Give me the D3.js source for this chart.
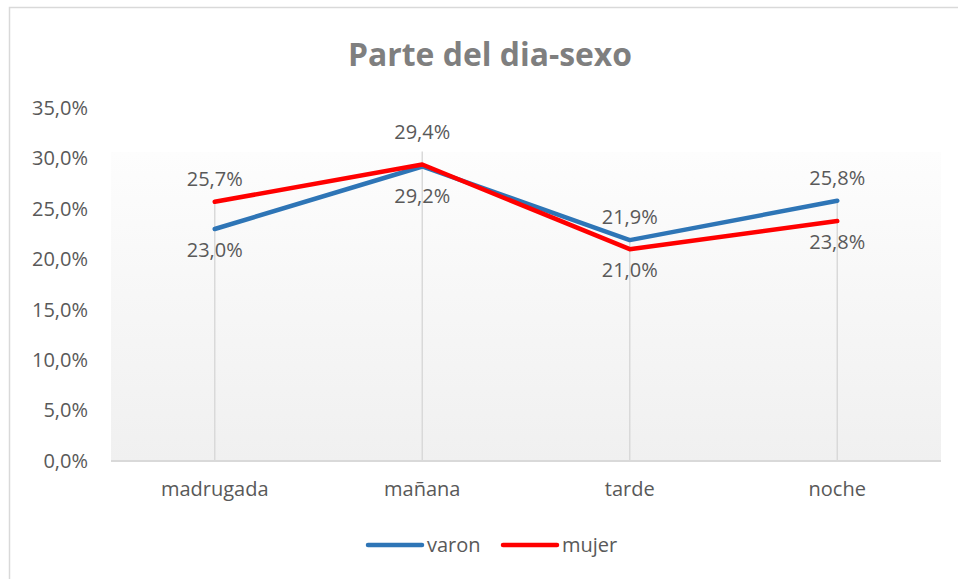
<!DOCTYPE html>
<html>
<head>
    <meta charset="utf-8">
    <style>
        body { margin: 0; background: #fff; }
        svg { display: block; }
        svg text { font-family: 'Open Sans', sans-serif; }
        .y .domain, .y .tick line { display: none; }
        .x .domain, .x .tick line { display: none; }
        .y .tick text, .x .tick text { font-size: 20px; fill: #595959; }
    </style>
</head>
<body>
    <svg width="958" height="579"></svg>

<script src="https://d3js.org/d3.v7.min.js"></script>
<script>
    // data
    let categories = ["madrugada", "mañana", "tarde", "noche"];
    let varon = [23.0, 29.2, 21.9, 25.8];
    let mujer = [25.7, 29.4, 21.0, 23.8];
    let yTicks = [0, 5, 10, 15, 20, 25, 30, 35];

    let series = [
        { name: "varon", values: varon, color: "#2E75B6" },
        { name: "mujer", values: mujer, color: "#FF0000" }
    ];

    let width = 958;
    let height = 579;
    let margin = { top: 108, right: 18, bottom: 118, left: 111 };

    let svg = d3.select("svg");
    let fmt = v => v.toFixed(1).replace(".", ",") + "%";

    // outer chart border
    svg.append("rect")
        .attr("x", 9.5).attr("y", 7.5)
        .attr("width", width + 20).attr("height", height + 20)
        .style("fill", "#fff")
        .style("stroke", "#d9d9d9")
        .style("stroke-width", 1.5);

    let x = d3.scaleBand()
        .domain(categories)
        .range([margin.left, width - margin.right + 1]);

    let y = d3.scaleLinear()
        .domain([0, 35])
        .range([height - margin.bottom, margin.top]);

    // plot area gradient
    let grad = svg.append("defs").append("linearGradient")
        .attr("id", "bg").attr("x1", 0).attr("y1", 0).attr("x2", 0).attr("y2", 1);
    grad.append("stop").attr("offset", "0%").attr("stop-color", "#fdfdfd");
    grad.append("stop").attr("offset", "100%").attr("stop-color", "#f0f0f0");

    svg.append("rect")
        .attr("x", x.range()[0])
        .attr("y", 152)
        .attr("width", x.range()[1] - x.range()[0])
        .attr("height", y(0) - 152)
        .style("fill", "url(#bg)");

    // title
    svg.append("text")
        .attr("x", 490)
        .attr("y", 66)
        .attr("text-anchor", "middle")
        .attr("textLength", 284)
        .attr("lengthAdjust", "spacingAndGlyphs")
        .style("font-size", "32px")
        .style("font-weight", "bold")
        .style("fill", "#7f7f7f")
        .text("Parte del dia-sexo");

    // axes
    svg.append("g")
        .attr("class", "y axis")
        .attr("transform", `translate(${margin.left - 23},0)`)
        .call(d3.axisLeft(y).tickValues(yTicks).tickSize(0).tickPadding(0)
            .tickFormat(d => d.toFixed(1).replace(".", ",") + "%"));

    svg.append("g")
        .attr("class", "x axis")
        .attr("transform", `translate(0,${y(0) + 21})`)
        .call(d3.axisBottom(x).tickSize(0).tickPadding(0));

    // drop lines
    svg.append("g")
        .selectAll("line")
        .data(categories)
        .join("line")
        .attr("x1", d => x(d) + x.bandwidth() / 2)
        .attr("x2", d => x(d) + x.bandwidth() / 2)
        .attr("y1", (d, i) => y(Math.max(varon[i], mujer[i])) - (Math.abs(varon[i] - mujer[i]) < 0.5 ? 13 : 0))
        .attr("y2", y(0))
        .style("stroke", "#d9d9d9")
        .style("stroke-width", 1.5);

    // category axis line
    svg.append("line")
        .attr("x1", x.range()[0]).attr("x2", x.range()[1])
        .attr("y1", y(0)).attr("y2", y(0))
        .style("stroke", "#d9d9d9")
        .style("stroke-width", 2);

    let line = d3.line()
        .x((d, i) => x(categories[i]) + x.bandwidth() / 2)
        .y(d => y(d));

    svg.append("g")
        .selectAll("path")
        .data(series)
        .join("path")
        .attr("d", d => line(d.values))
        .style("fill", "none")
        .style("stroke", d => d.color)
        .style("stroke-width", 4.5)
        .style("stroke-linecap", "round")
        .style("stroke-linejoin", "round");

    // data labels: higher value above, lower below
    series.forEach(function (s, si) {
        let other = series[1 - si].values;
        svg.append("g")
            .selectAll("text")
            .data(s.values)
            .join("text")
            .attr("x", (d, i) => x(categories[i]) + x.bandwidth() / 2)
            .attr("y", (d, i) => {
                let close = Math.abs(d - other[i]) < 0.5 ? 9 : 0;
                return d >= other[i] ? y(d) - 16 - close : y(d) + 28 + close;
            })
            .attr("text-anchor", "middle")
            .style("font-size", "20px")
            .style("fill", "#595959")
            .text(d => fmt(d));
    });

    // legend
    let legend = svg.append("g")
        .selectAll("g")
        .data(series)
        .join("g")
        .attr("transform", (d, i) => `translate(${368 + i * 135},545)`);

    legend.append("line")
        .attr("x1", 0).attr("x2", 54)
        .style("stroke", d => d.color)
        .style("stroke-width", 4.5)
        .style("stroke-linecap", "round");

    legend.append("text")
        .attr("x", 59)
        .attr("y", 7)
        .style("font-size", "20px")
        .style("fill", "#595959")
        .text(d => d.name);
</script>
</body>
</html>
